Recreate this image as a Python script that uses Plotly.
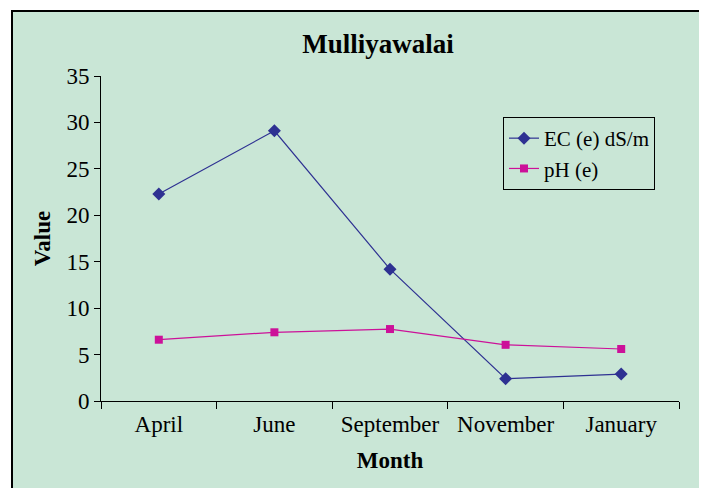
import plotly.graph_objects as go

months = ["April", "June", "September", "November", "January"]
ec_values = [22.3, 29.1, 14.2, 2.4, 2.9]
ph_values = [6.6, 7.4, 7.75, 6.05, 5.6]
y_ticks = [0, 5, 10, 15, 20, 25, 30, 35]

GREEN = "#C9E6D6"
FONT = "Liberation Serif"

fig = go.Figure()
fig.add_trace(go.Scatter(
    x=months, y=ec_values, name="EC (e) dS/m", mode="lines+markers",
    line=dict(color="#2E3192", width=1.2),
    marker=dict(symbol="diamond", size=10, color="#2E3192"),
))
fig.add_trace(go.Scatter(
    x=months, y=ph_values, name="pH (e)", mode="lines+markers",
    line=dict(color="#CC1199", width=1.2),
    marker=dict(symbol="square", size=8, color="#CC1199"),
))

# page has 8px body margin; figure coordinates = page coordinates - 8
OFF = 8
L, R, T, B = 101 - OFF, 707 - 679 + OFF, 76 - OFF, 488 - 401 + OFF
W, H = 707, 488
pw, ph = W - L - R, H - T - B

def px2x(px):
    return (px - OFF - L) / pw

def py2y(py):
    return (H - B - (py - OFF)) / ph

fig.add_shape(type="rect", xref="paper", yref="paper",
              x0=px2x(12), x1=px2x(740), y0=py2y(520), y1=py2y(11),
              fillcolor=GREEN, line=dict(color="black", width=2), layer="below")

fig.update_layout(
    width=W, height=H,
    margin=dict(l=L, r=R, t=T, b=B),
    paper_bgcolor="white",
    plot_bgcolor="rgba(0,0,0,0)",
    font=dict(family=FONT, color="black", size=23),
    title=dict(text="<b>Mulliyawalai</b>", x=px2x(378), xref="paper", xanchor="center",
               y=1 - (44 - OFF) / H, yref="container", yanchor="middle",
               font=dict(size=27, family=FONT)),
    showlegend=True,
    legend=dict(x=px2x(503), y=py2y(117), xanchor="left", yanchor="top",
                bgcolor=GREEN, bordercolor="black", borderwidth=1,
                font=dict(size=21, family=FONT), itemwidth=30,
                tracegroupgap=0),
    xaxis=dict(
        type="category", range=[-0.5, 4.5], tickson="boundaries",
        ticks="outside", ticklen=7, tickcolor="black", tickwidth=1,
        showline=True, linecolor="black", linewidth=1, showgrid=False, zeroline=False,
        tickfont=dict(size=23, family=FONT), ticklabelstandoff=2,
        title=dict(text="<b>Month</b>", font=dict(size=23, family=FONT), standoff=16),
    ),
    yaxis=dict(
        range=[0, 35], tickvals=y_ticks, ticks="outside", ticklen=6,
        tickcolor="black", tickwidth=1,
        showline=True, linecolor="black", linewidth=1, showgrid=False, zeroline=False,
        tickfont=dict(size=23, family=FONT),
        title=dict(text="<b>Value</b>", font=dict(size=23, family=FONT), standoff=9),
    ),
)

fig.write_html("out.html")
